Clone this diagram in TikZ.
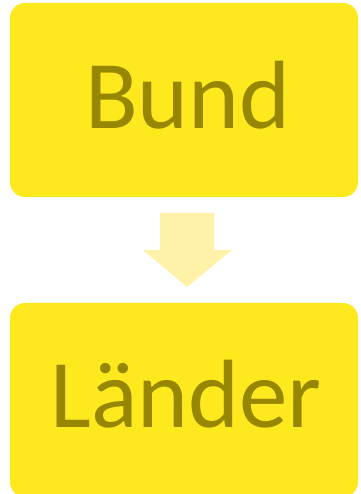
\documentclass[tikz,border=0pt]{standalone}
\usepackage{fontspec}
\setmainfont{Carlito}
\definecolor{boxyellow}{RGB}{254,232,30}
\definecolor{textolive}{RGB}{150,134,0}
\definecolor{arrowyellow}{RGB}{255,242,168}
\begin{document}
\begin{tikzpicture}[x=1pt,y=1pt,
  box/.style={fill=boxyellow, rounded corners=15pt},
  lbl/.style={text=textolive, font=\fontsize{97}{110}\selectfont, anchor=base, inner sep=0pt}]
\useasboundingbox (0,0) rectangle (360,494);
\clip (0,0) rectangle (360,494);
% upper box
\path[box] (10,297) rectangle (358,491);
\node[lbl] (bund) at (188,365) {Bund};
% lower box
\path[box] (10,-3) rectangle (358,191);
\node[lbl] (laender) at (186,66) {Länder};
% block arrow
\coordinate (atop) at (187,281);
\coordinate (atip) at (187,207);
\fill[arrowyellow] (160,281) -- (214,281) -- (214,244) -- (232,244) -- (atip) -- (143,244) -- (160,244) -- cycle;
\end{tikzpicture}
\end{document}
